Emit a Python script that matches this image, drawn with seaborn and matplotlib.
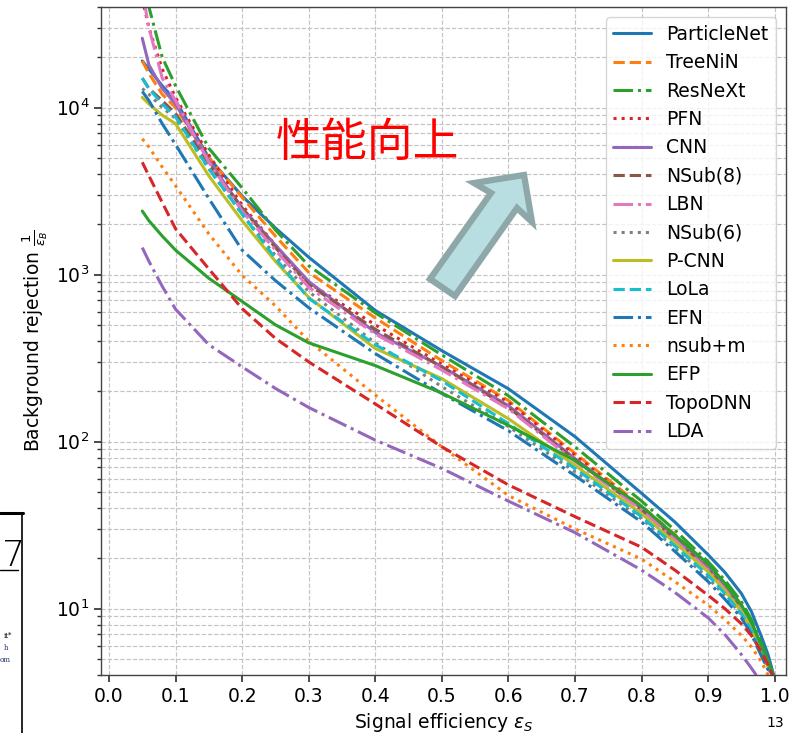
import matplotlib
matplotlib.use("Agg")
import matplotlib.pyplot as plt
import seaborn as sns
import pandas as pd
from matplotlib.patches import Polygon
from matplotlib.lines import Line2D

# ---------------- data ----------------
eff = [0.05, 0.06, 0.08, 0.10, 0.15, 0.20, 0.25, 0.30, 0.40, 0.50, 0.60, 0.70,
       0.80, 0.85, 0.90, 0.925, 0.95, 0.965, 0.98, 0.99, 1.00]

particlenet = [19000, 17000, 13500, 11000, 5000, 2950, 1900, 1270, 610, 350, 207, 107,
               49, 33, 21, 16.5, 12.3, 9.6, 6.8, 5.3, 3.8]
treenin     = [19000, 16000, 12000, 10000, 5000, 2900, 1700, 1030, 550, 305, 176, 85,
               41, 27.8, 18.3, 14.2, 10.5, 8.3, 6.0, 4.8, 3.8]
resnext     = [60000, 40000, 20000, 13500, 5700, 3300, 1850, 1130, 590, 330, 188, 93,
               44, 29.5, 19.1, 14.8, 11.0, 8.6, 6.2, 4.9, 3.8]
pfn         = [45000, 30000, 17000, 11500, 5200, 2600, 1500, 890, 500, 290, 172, 83,
               40, 27, 18.0, 13.9, 10.3, 8.1, 5.9, 4.7, 3.8]
cnn         = [26000, 18000, 13000, 10500, 4800, 2500, 1500, 910, 450, 281, 164, 79,
               39.7, 26.5, 17.4, 13.4, 10.0, 7.9, 5.8, 4.6, 3.8]
nsub8       = [15000, 13000, 11000, 9200, 4600, 2500, 1450, 870, 470, 280, 160, 78,
               39, 26, 17.2, 13.2, 9.9, 7.8, 5.7, 4.6, 3.8]
lbn         = [50000, 30000, 15000, 11000, 4700, 2400, 1400, 840, 440, 268, 157, 76,
               39, 25.8, 17.0, 13.1, 9.8, 7.7, 5.6, 4.5, 3.8]
nsub6       = [13000, 12000, 10000, 8600, 4300, 2300, 1300, 790, 390, 213, 123, 66,
               34.5, 23, 15.2, 12.0, 9.2, 7.3, 5.4, 4.4, 3.8]
pcnn        = [11500, 10500, 9000, 8000, 3900, 2100, 1200, 730, 361, 238, 137, 72,
               37, 24.8, 16.6, 12.8, 9.6, 7.6, 5.5, 4.5, 3.8]
lola        = [15000, 13000, 10500, 8800, 4300, 2300, 1250, 720, 380, 231, 128, 69,
               35.5, 23.7, 15.8, 12.3, 9.3, 7.4, 5.4, 4.4, 3.8]
efn         = [12500, 11000, 8000, 6000, 2850, 1400, 920, 633, 336, 194, 116, 62.5,
               33, 22, 14.5, 11.4, 8.8, 7.0, 5.2, 4.3, 3.8]
nsubm       = [6500, 5800, 4400, 3400, 1750, 990, 650, 400, 190, 93, 47.5, 30,
               19.8, 14.5, 10.5, 8.6, 6.9, 5.9, 4.8, 4.0, 3.2]
efp         = [2400, 2100, 1700, 1400, 950, 690, 500, 390, 285, 195, 125, 77,
               41, 27.5, 18.5, 14.2, 10.5, 8.3, 6.0, 4.8, 3.8]
topodnn     = [4700, 3900, 2700, 1880, 1080, 625, 415, 300, 168, 93, 55, 35.5,
               23.3, 17, 12.0, 10.0, 8.1, 6.9, 5.5, 4.6, 3.7]
lda         = [1450, 1200, 850, 620, 380, 280, 208, 160, 102, 69, 44, 28.5,
               17, 12.5, 8.8, 7.0, 5.3, 4.4, 3.6, 3.0, 2.5]

names = ["ParticleNet", "TreeNiN", "ResNeXt", "PFN", "CNN", "NSub(8)", "LBN",
         "NSub(6)", "P-CNN", "LoLa", "EFN", "nsub+m", "EFP", "TopoDNN", "LDA"]
series = [particlenet, treenin, resnext, pfn, cnn, nsub8, lbn,
          nsub6, pcnn, lola, efn, nsubm, efp, topodnn, lda]

x_ticks = [0.0, 0.1, 0.2, 0.3, 0.4, 0.5, 0.6, 0.7, 0.8, 0.9, 1.0]

# ---------------- style ----------------
sns.set_theme(style="ticks")
plt.rcParams['font.family'] = ['DejaVu Sans', 'Noto Sans CJK JP']
plt.rcParams['text.color'] = 'black'
plt.rcParams['axes.labelcolor'] = 'black'
plt.rcParams['xtick.color'] = 'black'
plt.rcParams['ytick.color'] = 'black'

colors = sns.color_palette("tab10", 10)
styles = ['-', '--', '-.', ':']

W, H = 789, 733
fig = plt.figure(figsize=(W / 100, H / 100), dpi=100)
ax = fig.add_axes([101 / W, 1 - 675 / H, (786 - 101) / W, (675 - 7) / H])

for i, (name, vals) in enumerate(zip(names, series)):
    df = pd.DataFrame({"eff": eff, "rej": vals})
    sns.lineplot(data=df, x="eff", y="rej", ax=ax, color=colors[i % 10],
                 linestyle=styles[i % 4], linewidth=2.2, label=name,
                 sort=False, estimator=None)

ax.set_yscale("log")
ax.set_xlim(-0.012, 1.017)
ax.set_ylim(4, 4e4)
ax.set_xticks(x_ticks)
ax.set_xticklabels([f"{t:.1f}" for t in x_ticks])
ax.grid(True, which="both", linestyle="--", color="#c4c4c4", linewidth=0.85)
ax.tick_params(axis="both", which="major", labelsize=13.5, length=5, color="#333333",
               labelcolor="black")
ax.tick_params(axis="y", which="minor", length=3, color="#333333")
for s in ax.spines.values():
    s.set_color("#444444")
    s.set_linewidth(1.0)

ax.set_xlabel(r"Signal efficiency $\epsilon_S$", fontsize=13.5, labelpad=4, color="black")
ax.set_ylabel(r"Background rejection $\frac{1}{\epsilon_B}$", fontsize=13.5, labelpad=4,
              color="black")

leg = ax.legend(loc="upper right", fontsize=13.5, frameon=True, handlelength=2.0,
                labelspacing=0.5, borderaxespad=0.55)
leg.get_frame().set_edgecolor("#cccccc")
leg.get_frame().set_linewidth(1.0)
for t in leg.get_texts():
    t.set_color("black")

# ---------------- slide annotations ----------------
def fx(x):
    return x / W

def fy(y):
    return 1 - y / H

fig.text(fx(367), fy(143), "性能向上", color="red", fontsize=33,
         family=['Noto Sans CJK JP', 'DejaVu Sans'], ha="center", va="center")

arrow_px = [(430, 279), (491, 193), (474, 183), (524, 175), (532, 222), (517, 208), (455, 296)]
arrow = Polygon([(fx(x), fy(y)) for x, y in arrow_px], closed=True,
                transform=fig.transFigure, facecolor="#b9dee2", edgecolor="#8ea7a8",
                linewidth=4.5, joinstyle="miter", zorder=10)
fig.patches.append(arrow)

# remnants of the neighbouring slide content at the left and bottom
fig.lines.append(Line2D([fx(0), fx(23)], [fy(513), fy(513)], transform=fig.transFigure,
                        color="black", linewidth=2.2))
fig.lines.append(Line2D([fx(22), fx(22)], [fy(513), fy(733)], transform=fig.transFigure,
                        color="black", linewidth=1.2))
fig.lines.append(Line2D([fx(0), fx(18)], [fy(570), fy(570)], transform=fig.transFigure,
                        color="black", linewidth=1.0))
fig.text(fx(2), fy(566), "7", fontsize=26, fontweight="light", ha="left", va="baseline",
         color="black")
fig.text(fx(12), fy(636), "it*", fontsize=5, ha="right", va="center", family="serif", color="black")
fig.text(fx(8), fy(648), "h", fontsize=5, ha="right", va="center", family="serif", color="#1a2a6a")
fig.text(fx(11), fy(660), "om", fontsize=5, ha="right", va="center", family="serif", color="#1a2a6a")
fig.text(fx(784), fy(730), "13", fontsize=10, ha="right", va="bottom", color="black")

fig.savefig("out.png", dpi=100)
